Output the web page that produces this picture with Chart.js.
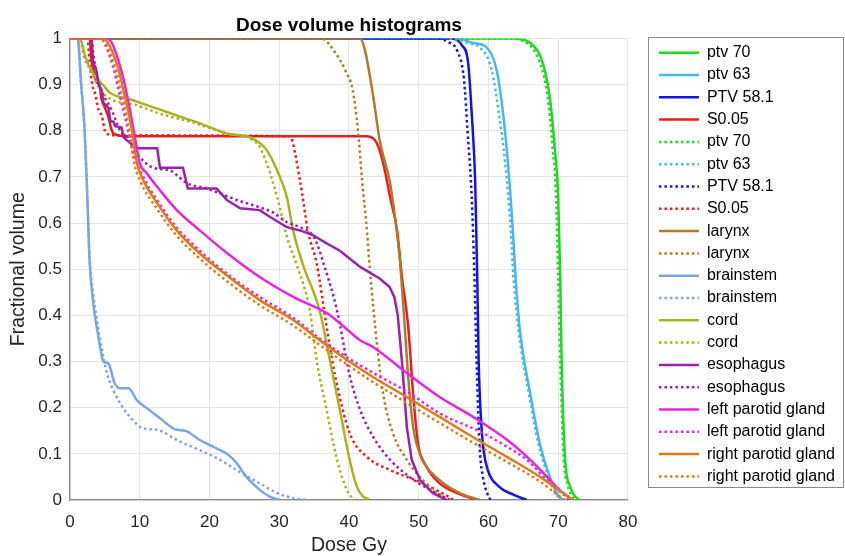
<!DOCTYPE html>
<html>
<head>
<meta charset="utf-8">
<title>Dose volume histograms</title>
<script src="https://cdn.jsdelivr.net/npm/chart.js@4.4.1/dist/chart.umd.min.js"></script>
<style>
    html, body { margin: 0; padding: 0; background: #ffffff; }
    #grafico { display: block; }
</style>
</head>
<body>
<canvas id="grafico" width="845" height="556"></canvas>
<script>

// ===========================
// Dados (dose Gy, volume fracional)
// ===========================
const seriesLabels = [
    "ptv 70", "ptv 63", "PTV 58.1", "S0.05",
    "ptv 70", "ptv 63", "PTV 58.1", "S0.05",
    "larynx", "larynx", "brainstem", "brainstem",
    "cord", "cord", "esophagus", "esophagus",
    "left parotid gland", "left parotid gland",
    "right parotid gland", "right parotid gland"
];

const xTickLabels = ["0", "10", "20", "30", "40", "50", "60", "70", "80"];
const yTickLabels = ["0", "0.1", "0.2", "0.3", "0.4", "0.5", "0.6", "0.7", "0.8", "0.9", "1"];

const ptv70Solid = [[0,1],[63.5,1],[66,0.99],[67.8,0.946],[68.8,0.872],[69.5,0.764],[70,0.656],[70.3,0.48],[70.5,0.30],[71,0.087],[71.7,0.03],[72.4,0.008],[73.1,0]];
const ptv63Solid = [[0,1],[55.5,1],[57.8,0.99],[59.7,0.981],[61.2,0.93],[62.1,0.837],[62.8,0.73],[63.5,0.584],[63.9,0.48],[64.5,0.37],[66,0.23],[67.4,0.12],[68.8,0.05],[70.2,0.006],[71,0]];
const ptv581Solid = [[0,1],[54.5,1],[56.2,0.985],[57.1,0.946],[57.6,0.838],[58.1,0.69],[58.4,0.48],[58.6,0.30],[59,0.16],[59.3,0.108],[59.9,0.065],[61.6,0.028],[63.5,0.012],[65.5,0]];
const s005Solid = [[0,1],[2.8,1],[3.1,0.95],[3.4,0.93],[3.8,0.905],[4.2,0.9],[4.5,0.87],[5,0.85],[5.5,0.83],[6,0.80],[6.5,0.792],[8,0.788],[42.6,0.788],[44,0.773],[44.9,0.73],[45.9,0.656],[46.9,0.584],[47.6,0.483],[48.5,0.375],[49.2,0.23],[49.9,0.123],[51.2,0.07],[53,0.036],[55.5,0.015],[58.4,0]];

const ptv70Dotted = [[0,1],[62.5,1],[65.5,0.99],[67.4,0.946],[68.5,0.872],[69.2,0.764],[69.7,0.656],[70,0.48],[70.3,0.30],[70.8,0.087],[71.4,0.03],[72,0.008],[72.6,0]];
const ptv63Dotted = [[0,1],[54.5,1],[57,0.99],[58.8,0.98],[60.5,0.93],[61.5,0.837],[62.4,0.73],[63.2,0.584],[63.6,0.48],[64.3,0.37],[65.8,0.23],[67.2,0.12],[68.6,0.05],[70,0.006],[70.8,0]];
const ptv581Dotted = [[0,1],[52.5,1],[54.5,0.99],[55.5,0.974],[56.5,0.91],[57,0.80],[57.6,0.656],[58,0.48],[58.3,0.30],[58.6,0.16],[58.8,0.1],[59.2,0.05],[59.8,0.015],[60.3,0]];
const s005Dotted = [[0,1],[2.5,1],[2.8,0.95],[3.2,0.9],[3.6,0.88],[4,0.85],[4.6,0.83],[5,0.8],[5.6,0.792],[7,0.79],[31.5,0.788],[33,0.69],[34.1,0.584],[35.4,0.51],[36.8,0.375],[38,0.27],[40.1,0.145],[42.6,0.093],[45.9,0.065],[50.6,0.036],[54.5,0.005],[55,0]];

const larynxSolid = [[0,1],[41.6,1],[42.3,0.974],[43.5,0.872],[44.4,0.78],[45.9,0.686],[46.6,0.613],[47.3,0.52],[48,0.375],[48.5,0.266],[49.2,0.158],[50.6,0.087],[53,0.043],[55.9,0.015],[58.8,0]];
const larynxDotted = [[0,1],[36,1],[38,0.97],[39.5,0.93],[40.5,0.89],[41.3,0.80],[41.9,0.69],[42.6,0.58],[43,0.5],[44,0.34],[44.9,0.23],[46.3,0.145],[48.3,0.087],[50.6,0.043],[53.5,0.006],[54,0]];

const brainstemSolid = [[0,1],[1.1,1],[1.6,0.9],[2.1,0.8],[2.5,0.65],[2.8,0.52],[3.3,0.43],[4,0.36],[4.8,0.30],[5.5,0.296],[6.4,0.253],[7.2,0.242],[8.4,0.242],[9.6,0.216],[11,0.199],[12.9,0.177],[15.3,0.152],[16.5,0.15],[18.6,0.13],[21,0.112],[22.5,0.10],[23.9,0.08],[25.3,0.05],[27.2,0.022],[28.7,0.007],[30.1,0]];
const brainstemDotted = [[0,1],[1.1,1],[1.6,0.9],[2.1,0.8],[2.5,0.65],[2.8,0.53],[3.3,0.45],[4.3,0.35],[5.3,0.275],[6.2,0.238],[7.6,0.20],[9,0.173],[10.5,0.155],[12.5,0.152],[15.3,0.13],[18.6,0.108],[21.5,0.087],[24.4,0.06],[27.2,0.036],[29.7,0.015],[32,0.004],[34,0]];

const cordSolid = [[0,1],[1.4,1],[2.2,0.96],[3.3,0.924],[4.7,0.90],[5.7,0.883],[9,0.866],[12.5,0.848],[15.3,0.833],[18.6,0.816],[22.5,0.794],[26.2,0.783],[28.2,0.758],[29.7,0.714],[31.1,0.656],[32,0.584],[33.4,0.51],[35.8,0.41],[37.3,0.30],[38.7,0.195],[40.1,0.087],[41.1,0.03],[42,0.008],[43,0]];
const cordDotted = [[0,1],[1.4,1],[2,0.96],[3,0.93],[4.5,0.885],[6.2,0.866],[9.6,0.855],[12.9,0.837],[17.6,0.818],[22.5,0.794],[26.8,0.773],[28.2,0.73],[29.7,0.656],[31.1,0.57],[32.5,0.51],[34.4,0.41],[35.4,0.30],[36.8,0.195],[38.3,0.087],[39.7,0.022],[40.6,0.003],[41,0]];

const esophagusSolid = [[0,1],[3.1,1],[3.3,0.95],[3.8,0.93],[4.1,0.9],[4.5,0.89],[4.8,0.86],[5.5,0.85],[5.8,0.82],[6.2,0.82],[6.5,0.81],[7.4,0.807],[7.7,0.785],[8.9,0.77],[9.3,0.762],[12.5,0.762],[12.9,0.72],[16.2,0.72],[16.9,0.675],[21,0.675],[22.5,0.65],[24.4,0.632],[27.2,0.628],[28.7,0.613],[31.1,0.591],[33,0.584],[34.8,0.574],[36.8,0.556],[38.7,0.54],[41.6,0.505],[44.4,0.48],[45.8,0.462],[46.5,0.44],[47,0.40],[47.6,0.30],[48.3,0.158],[49,0.087],[50.2,0.043],[52,0.015],[54,0]];
const esophagusDotted = [[0,1],[3,1],[3.5,0.95],[4.2,0.9],[4.7,0.88],[6,0.844],[7.2,0.80],[8.1,0.786],[9.6,0.75],[11.9,0.72],[14.3,0.714],[16.8,0.686],[19.6,0.675],[21.5,0.664],[23.9,0.65],[27.2,0.634],[29.1,0.623],[31.1,0.602],[33,0.591],[34.8,0.574],[35.4,0.556],[36.3,0.515],[38.3,0.41],[40.1,0.27],[41.6,0.195],[43.5,0.136],[45.9,0.087],[48.7,0.05],[51.6,0.022],[54.5,0]];

const leftParotidSolid = [[0,1],[5.2,1],[6,0.99],[7.6,0.916],[8.6,0.844],[9.3,0.786],[10,0.73],[11,0.708],[12.9,0.671],[15.3,0.628],[18.6,0.584],[22.5,0.535],[27.2,0.483],[32,0.44],[36.8,0.405],[38.7,0.383],[41.6,0.346],[43.5,0.331],[48.3,0.275],[53,0.223],[57.8,0.18],[62.7,0.13],[66,0.087],[68.4,0.05],[70.2,0.022],[72.1,0]];
const leftParotidDotted = [[0,1],[4.2,1],[4.7,0.996],[6.2,0.937],[7.2,0.872],[8.1,0.816],[8.9,0.76],[10.5,0.70],[12.9,0.64],[15.3,0.59],[18.6,0.54],[23.4,0.48],[27.2,0.44],[32,0.395],[35.8,0.35],[39.1,0.315],[43.5,0.275],[48.3,0.235],[53,0.188],[59.2,0.145],[62.7,0.115],[65.5,0.087],[68.4,0.043],[71.2,0.006],[71.6,0]];

const rightParotidSolid = [[0,1],[4.7,1],[6.7,0.946],[7.9,0.872],[8.9,0.80],[9.6,0.73],[10.5,0.693],[12.9,0.634],[15.3,0.584],[18.6,0.534],[23.4,0.476],[27.2,0.433],[32,0.39],[35.8,0.346],[39.1,0.31],[43.5,0.266],[48.3,0.223],[53,0.18],[57.8,0.136],[62.7,0.093],[67.4,0.05],[70.7,0.015],[72.1,0]];
const rightParotidDotted = [[0,1],[4.3,1],[6.3,0.946],[7.5,0.872],[8.5,0.80],[9.2,0.73],[10.1,0.69],[12.5,0.63],[15,0.578],[18.3,0.527],[23,0.468],[27,0.424],[32,0.378],[35.8,0.336],[39.1,0.30],[43.5,0.255],[48.3,0.21],[53,0.167],[57.8,0.124],[62.7,0.082],[67.4,0.04],[70,0.01],[71,0]];

const seriesData = [
    ptv70Solid, ptv63Solid, ptv581Solid, s005Solid,
    ptv70Dotted, ptv63Dotted, ptv581Dotted, s005Dotted,
    larynxSolid, larynxDotted, brainstemSolid, brainstemDotted,
    cordSolid, cordDotted, esophagusSolid, esophagusDotted,
    leftParotidSolid, leftParotidDotted, rightParotidSolid, rightParotidDotted
];

// ===========================
// Estilos
// ===========================
const FONTE = "'Liberation Sans', Arial, Helvetica, sans-serif";
const COR_TEXTO = "#262626";

const cores = [
    "#22d822", "#4ab8e6", "#1414dc", "#e81e1e",
    "#22d822", "#4ab8e6", "#1414dc", "#e81e1e",
    "#b07a2c", "#b07a2c", "#7fa5dd", "#7fa5dd",
    "#a9b322", "#a9b322", "#9a22a6", "#9a22a6",
    "#ea24dc", "#ea24dc", "#df7a1c", "#df7a1c"
];

const pontilhado = [
    false, false, false, false,
    true, true, true, true,
    false, true, false, true,
    false, true, false, true,
    false, true, false, true
];

// esophagus solido tem degraus
const semSuavizar = [14];

// ===========================
// Datasets
// ===========================
const datasets = seriesData.map((pontos, i) => ({
    label: seriesLabels[i],
    data: pontos,
    borderColor: cores[i],
    backgroundColor: cores[i],
    borderWidth: 2.5,
    borderDash: pontilhado[i] ? [2.5, 3] : [],
    pointRadius: 0,
    fill: false,
    cubicInterpolationMode: semSuavizar.includes(i) ? 'default' : 'monotone',
    tension: semSuavizar.includes(i) ? 0 : 0.4,
    // MATLAB: o ultimo plot fica por cima
    order: seriesData.length - i
}));

// ===========================
// Caixa da legenda
// ===========================
const caixaLegenda = {
    id: 'caixaLegenda',
    afterDraw(chart) {
        const leg = chart.legend;
        if (!leg || !leg.legendHitBoxes || leg.legendHitBoxes.length === 0) {
            return;
        }
        const caixas = leg.legendHitBoxes;
        const primeiro = caixas[0];
        const ultimo = caixas[caixas.length - 1];
        const x0 = Math.round(leg.left - 5) + 0.5;
        const y0 = Math.round(primeiro.top - 8) + 0.5;
        const y1 = Math.round(ultimo.top + ultimo.height + 3) + 0.5;
        const ctx = chart.ctx;
        ctx.save();
        ctx.strokeStyle = "#8a8a8a";
        ctx.lineWidth = 1;
        ctx.strokeRect(x0, y0, 195, y1 - y0);
        ctx.restore();
    }
};

// legenda com tracejado igual ao da linha
function gerarLegenda(chart) {
    const itens = Chart.defaults.plugins.legend.labels.generateLabels(chart);
    itens.forEach(item => {
        const ds = chart.data.datasets[item.datasetIndex];
        item.lineDash = ds.borderDash;
        item.lineWidth = ds.borderWidth;
        item.strokeStyle = ds.borderColor;
        item.fillStyle = ds.borderColor;
    });
    return itens;
}

// ===========================
// Grafico
// ===========================
const ctx = document.getElementById('grafico').getContext('2d');

new Chart(ctx, {
    type: 'line',
    data: { datasets: datasets },
    plugins: [caixaLegenda],
    options: {
        responsive: false,
        animation: false,
        devicePixelRatio: 1,
        layout: { padding: { left: 0, right: 0, top: 0, bottom: 0 } },
        plugins: {
            title: {
                display: true,
                text: 'Dose volume histograms',
                color: '#000000',
                fullSize: false,
                font: { family: FONTE, size: 19, weight: 'bold' },
                padding: { top: 14.6, bottom: 1 }
            },
            legend: {
                display: true,
                position: 'right',
                align: 'start',
                fullSize: false,
                maxWidth: 200,
                labels: {
                    usePointStyle: true,
                    pointStyle: 'line',
                    pointStyleWidth: 40,
                    padding: 6.3,
                    color: '#000000',
                    font: { family: FONTE, size: 16 },
                    generateLabels: gerarLegenda,
                    sort: (a, b) => a.datasetIndex - b.datasetIndex
                }
            },
            tooltip: { enabled: false }
        },
        scales: {
            x: {
                type: 'linear',
                position: 'bottom',
                min: 0,
                max: 80,
                ticks: {
                    stepSize: 10,
                    padding: 12,
                    color: COR_TEXTO,
                    font: { family: FONTE, size: 17 },
                    maxRotation: 0,
                    callback: (v) => xTickLabels[Math.round(v / 10)]
                },
                grid: { color: '#e4e4e4', lineWidth: 1, drawTicks: false },
                border: { color: '#8a8a8a', width: 1.3 },
                title: {
                    display: true,
                    text: 'Dose Gy',
                    color: COR_TEXTO,
                    font: { family: FONTE, size: 19.5 },
                    padding: { top: 0, bottom: -1.5 }
                },
                afterFit: (s) => { s.height = 56; }
            },
            y: {
                type: 'linear',
                position: 'left',
                min: 0,
                max: 1,
                ticks: {
                    stepSize: 0.1,
                    padding: 8,
                    color: COR_TEXTO,
                    font: { family: FONTE, size: 17 },
                    callback: (v) => yTickLabels[Math.round(v * 10)]
                },
                grid: { color: '#e4e4e4', lineWidth: 1, drawTicks: false },
                border: { color: '#8a8a8a', width: 1.3 },
                title: {
                    display: true,
                    text: 'Fractional volume',
                    color: COR_TEXTO,
                    font: { family: FONTE, size: 19.5 },
                    padding: { top: 7.3, bottom: 0 }
                },
                afterFit: (s) => { s.width = 70; }
            },
            // espaco entre o grafico e a legenda
            yR: {
                type: 'linear',
                position: 'right',
                display: true,
                min: 0,
                max: 1,
                ticks: { display: false },
                grid: { display: false, drawTicks: false },
                border: { display: false },
                afterFit: (s) => { s.width = 24.7; }
            }
        }
    }
});

</script>
</body>
</html>
